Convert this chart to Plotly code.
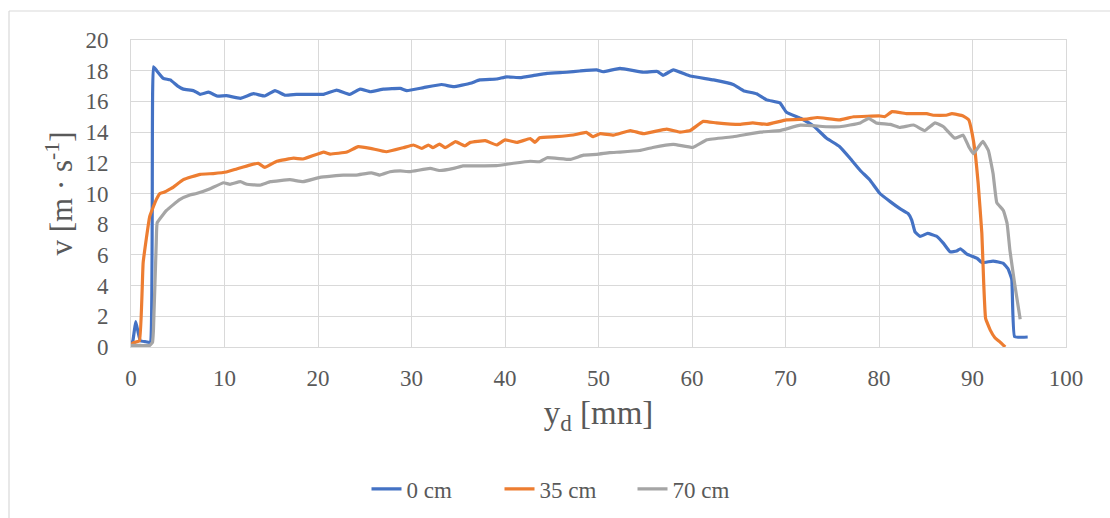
import plotly.graph_objects as go

x_0cm = [0, 0.2, 0.5, 0.75, 1.0, 1.5, 2.05, 2.4, 2.75, 3.45,
         4.2, 5.0, 5.6, 6.7, 7.4, 8.3, 9.2, 10.2, 11.7, 13.1,
         14.3, 15.4, 16.5, 17.7, 19.1, 20.6, 22.0, 23.4, 24.5, 25.6,
         27.0, 28.8, 29.5, 31.3, 33.2, 34.5, 36.3, 37.3, 39.1, 40.2,
         41.6, 43.0, 44.5, 46.6, 48.0, 49.8, 50.5, 52.3, 54.8, 56.3,
         56.9, 58.0, 59.8, 62.3, 64.4, 65.5, 66.9, 68.0, 69.4, 70.1,
         71.6, 73.0, 74.4, 75.8, 76.9, 78.0, 79.0, 80.1, 81.2, 82.2,
         83.1, 83.5, 83.85, 84.4, 85.2, 86.2, 86.9, 87.6, 88.3, 88.7,
         89.4, 90.5, 91.0, 92.2, 93.3, 93.8, 94.2, 94.5, 95.9]
v_0cm = [0.2, 0.4, 1.65, 1.0, 0.4, 0.35, 0.3, 18.26, 18.0, 17.5,
         17.4, 17.0, 16.8, 16.7, 16.46, 16.6, 16.35, 16.37, 16.2, 16.5,
         16.35, 16.7, 16.4, 16.46, 16.46, 16.46, 16.74, 16.46, 16.8, 16.63,
         16.8, 16.85, 16.7, 16.9, 17.1, 16.96, 17.18, 17.4, 17.46, 17.6,
         17.55, 17.68, 17.83, 17.9, 17.98, 18.05, 17.93, 18.15, 17.9, 17.95,
         17.7, 18.05, 17.65, 17.4, 17.1, 16.7, 16.5, 16.1, 15.9, 15.3,
         14.9, 14.4, 13.6, 13.05, 12.3, 11.5, 10.9, 10.0, 9.47, 9.03,
         8.7, 8.27, 7.5, 7.2, 7.4, 7.2, 6.75, 6.2, 6.25, 6.4,
         6.05, 5.78, 5.5, 5.6, 5.45, 5.1, 4.4, 0.67, 0.65]

x_35cm = [0, 0.2, 0.9, 1.3, 2.0, 2.7, 3.1, 3.6, 4.2, 4.5,
          5.6, 7.4, 8.8, 10.2, 11.3, 12.7, 13.6, 14.3, 15.6, 17.4,
          18.4, 20.6, 21.3, 23.1, 24.3, 25.6, 27.3, 29.1, 30.2, 31.1,
          31.8, 32.3, 33.0, 33.6, 34.7, 35.7, 36.3, 37.9, 39.1, 40.0,
          41.3, 42.7, 43.2, 43.7, 45.5, 47.3, 48.7, 49.4, 50.2, 51.6,
          53.4, 54.8, 57.3, 58.7, 59.8, 61.2, 62.6, 65.1, 66.5, 68.0,
          70.1, 72.3, 73.4, 75.8, 77.3, 80.1, 80.6, 81.4, 83.0, 85.1,
          85.8, 87.2, 87.8, 89.0, 89.6, 89.9, 90.3, 90.6, 91.0, 91.2,
          91.4, 91.9, 92.4, 92.9, 93.5]
v_35cm = [0.1, 0.26, 0.4, 5.5, 8.5, 9.6, 10.0, 10.1, 10.3, 10.4,
          10.9, 11.25, 11.3, 11.4, 11.6, 11.85, 11.97, 11.7, 12.1, 12.3,
          12.25, 12.7, 12.57, 12.7, 13.05, 12.94, 12.72, 12.98, 13.16, 12.94,
          13.16, 12.98, 13.22, 12.98, 13.38, 13.1, 13.33, 13.44, 13.16, 13.49,
          13.33, 13.58, 13.33, 13.63, 13.7, 13.81, 13.98, 13.7, 13.9, 13.8,
          14.1, 13.9, 14.2, 14.0, 14.1, 14.7, 14.6, 14.5, 14.6, 14.5,
          14.8, 14.85, 14.95, 14.8, 15.0, 15.05, 15.0, 15.33, 15.2, 15.2,
          15.1, 15.1, 15.2, 15.05, 14.8, 14.1, 12.6, 10.7, 7.4, 4.15,
          1.87, 1.1, 0.6, 0.35, 0.0]

x_70cm = [0, 1.0, 2.0, 2.3, 2.4, 2.7, 2.8, 3.8, 5.2, 6.3,
          7.0, 8.4, 9.9, 10.6, 11.7, 12.4, 13.8, 14.9, 17.0, 18.4,
          20.2, 22.7, 24.1, 25.7, 26.6, 27.7, 28.8, 29.8, 32.0, 33.0,
          34.5, 35.5, 37.7, 39.1, 40.9, 42.7, 43.7, 44.5, 47.0, 48.4,
          49.8, 51.2, 52.3, 54.4, 55.8, 58.0, 60.1, 61.6, 64.4, 67.3,
          69.4, 71.6, 74.4, 75.8, 76.9, 78.0, 78.9, 79.7, 81.2, 82.2,
          83.7, 84.9, 86.0, 86.9, 88.1, 89.0, 89.6, 90.1, 91.1, 91.7,
          92.2, 92.6, 93.3, 93.7, 94.0, 94.5, 95.1]
v_70cm = [0.1, 0.1, 0.1, 0.3, 1.1, 6.8, 8.1, 8.9, 9.6, 9.9,
          10.0, 10.3, 10.7, 10.6, 10.77, 10.6, 10.55, 10.77, 10.9, 10.77,
          11.05, 11.2, 11.2, 11.35, 11.2, 11.42, 11.47, 11.42, 11.64, 11.5,
          11.64, 11.8, 11.8, 11.81, 11.97, 12.1, 12.07, 12.33, 12.22, 12.5,
          12.55, 12.66, 12.7, 12.8, 13.0, 13.2, 13.0, 13.5, 13.7, 14.0,
          14.1, 14.45, 14.35, 14.35, 14.46, 14.6, 14.9, 14.6, 14.5, 14.3,
          14.46, 14.1, 14.6, 14.35, 13.6, 13.8, 13.05, 12.6, 13.4, 12.8,
          11.3, 9.4, 8.9, 8.05, 6.3, 4.15, 1.8]

series_names = ["0 cm", "35 cm", "70 cm"]
series_colors = ["#4472C4", "#ED7D31", "#A5A5A5"]

FONT = "Liberation Serif"
TXT = "#595959"
GRID = "#D9D9D9"

fig = go.Figure()
for name, xs, ys, col in zip(series_names, [x_0cm, x_35cm, x_70cm],
                             [v_0cm, v_35cm, v_70cm], series_colors):
    fig.add_trace(go.Scatter(x=xs, y=ys, mode="lines", name=name,
                             line=dict(color=col, width=3.2, shape="spline", smoothing=0.3)))

W, H = 1110, 518
L, R, T, B = 131, 44, 40, 171
pw, ph = W - L - R, H - T - B

def px(xp):
    return (xp - L) / pw

def py(yp):
    return (H - B - yp) / ph

fig.update_layout(
    template="none",
    width=W, height=H,
    margin=dict(l=L, r=R, t=T, b=B, autoexpand=False),
    paper_bgcolor="white", plot_bgcolor="white",
    font=dict(family=FONT, color=TXT, size=23),
    showlegend=True,
    legend=dict(orientation="h", x=px(566), y=py(489), xanchor="center", yanchor="middle",
                entrywidth=88, entrywidthmode="pixels",
                font=dict(family=FONT, size=23, color=TXT),
                bgcolor="rgba(0,0,0,0)"),
    xaxis=dict(range=[0, 100], dtick=10, tick0=0, showgrid=True, gridcolor=GRID, gridwidth=1,
               showline=True, linecolor=GRID, linewidth=1, mirror=True, zeroline=False,
               automargin=False, ticks="", ticklabelstandoff=10,
               tickfont=dict(family=FONT, size=23, color=TXT),
               title=dict(text="y<sub>d</sub> [mm]", font=dict(family=FONT, size=33, color=TXT),
                          standoff=11)),
    yaxis=dict(range=[0, 20], dtick=2, tick0=0, showgrid=True, gridcolor=GRID, gridwidth=1,
               showline=True, linecolor=GRID, linewidth=1, mirror=True, zeroline=False,
               automargin=False, ticks="", ticklabelstandoff=17,
               tickfont=dict(family=FONT, size=23, color=TXT),
               title=dict(text="v [m · s<sup>-1</sup>]", font=dict(family=FONT, size=31, color=TXT),
                          standoff=3)),
    shapes=[
        dict(type="line", xref="paper", yref="paper", x0=px(9), x1=px(1112), y0=py(11), y1=py(11),
             line=dict(color=GRID, width=1.2)),
        dict(type="line", xref="paper", yref="paper", x0=px(9), x1=px(9), y0=py(11), y1=py(520),
             line=dict(color=GRID, width=1.2)),
    ],
)

fig.write_html("out.html", config={"displayModeBar": False},
               post_script="document.body.style.margin='0px';document.body.style.padding='0px';")
